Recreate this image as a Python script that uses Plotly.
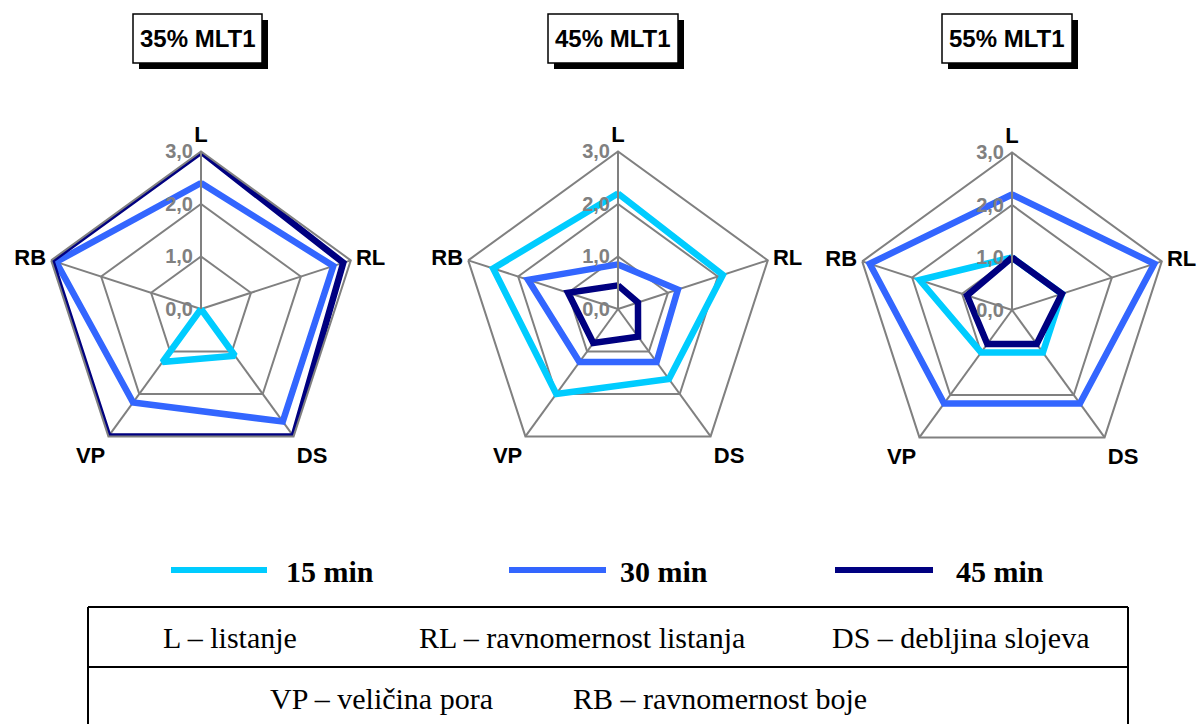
import plotly.graph_objects as go

# Sensory attributes (clockwise from the top)
categories = ["L", "RL", "DS", "VP", "RB"]

# Panel headings: share of MLT1
panels = ["35% MLT1", "45% MLT1", "55% MLT1"]

# Series: baking / processing time
series_names = ["15 min", "30 min", "45 min"]
series_colors = ["#00CCFF", "#3366FF", "#000080"]

# Scores per panel, order L, RL, DS, VP, RB
mlt35_15 = [0.0, 0.0, 1.1, 1.25, 0.0]
mlt35_30 = [2.4, 2.65, 2.65, 2.2, 2.9]
mlt35_45 = [3.0, 2.85, 3.0, 3.0, 3.0]

mlt45_15 = [2.2, 2.1, 1.65, 2.0, 2.5]
mlt45_30 = [0.85, 1.2, 1.25, 1.25, 1.8]
mlt45_45 = [0.45, 0.4, 0.65, 0.8, 1.0]

mlt55_15 = [1.0, 1.0, 1.0, 1.0, 1.85]
mlt55_30 = [2.2, 2.85, 2.2, 2.2, 2.85]
mlt55_45 = [1.0, 1.0, 0.8, 0.8, 0.9]

panel_data = [
    [mlt35_15, mlt35_30, mlt35_45],
    [mlt45_15, mlt45_30, mlt45_45],
    [mlt55_15, mlt55_30, mlt55_45],
]

radial_ticks = [0, 1, 2, 3]

# Abbreviation key shown under the charts
key_row1 = ["L – listanje", "RL – ravnomernost listanja", "DS – debljina slojeva"]
key_row2 = ["VP – veličina pora", "RB – ravnomernost boje"]

W, H = 1199, 724


def fx(x):
    return x / W


def fy(y):
    return 1 - y / H


GRID = "#808080"
centers = [(201, 309), (618, 309), (1012, 310)]
R = 157.5

fig = go.Figure()
layout = dict(
    width=W,
    height=H,
    margin=dict(l=0, r=0, t=0, b=0),
    paper_bgcolor="white",
    plot_bgcolor="white",
    showlegend=False,
    separators=",.",
    shapes=[],
    annotations=[],
)

for i, (cx, cy) in enumerate(centers):
    name = "polar" if i == 0 else f"polar{i + 1}"
    for vals, sname, color in zip(panel_data[i], series_names, series_colors):
        fig.add_trace(
            go.Scatterpolar(
                r=vals + vals[:1],
                theta=categories + categories[:1],
                mode="lines",
                line=dict(color=color, width=6.5),
                name=sname,
                cliponaxis=False,
                subplot=name,
                showlegend=False,
            )
        )
    layout[name] = dict(
        domain=dict(
            x=[fx(cx - R), fx(cx + R)],
            y=[fy(cy + R), fy(cy - R)],
        ),
        bgcolor="white",
        gridshape="linear",
        radialaxis=dict(
            range=[0, 3],
            tickvals=radial_ticks,
            tickformat=".1f",
            angle=90,
            side="counterclockwise",
            showline=True,
            linecolor=GRID,
            linewidth=2,
            gridcolor=GRID,
            gridwidth=2,
            ticks="",
            tickangle=90,
            tickfont=dict(family="Liberation Sans", size=20, color=GRID, weight="bold"),
        ),
        angularaxis=dict(
            categoryorder="array",
            categoryarray=categories,
            direction="clockwise",
            rotation=90,
            showline=True,
            linecolor=GRID,
            linewidth=2,
            gridcolor=GRID,
            gridwidth=2,
            ticks="",
            tickfont=dict(family="Liberation Sans", size=22, color="black", weight="bold"),
        ),
    )

# Heading boxes with drop shadow
box_x = [(133, 262), (548, 678), (942, 1072)]
for (x0, x1), title in zip(box_x, panels):
    y0, y1 = 14, 63
    layout["shapes"].append(dict(
        type="rect", xref="paper", yref="paper",
        x0=fx(x0 + 6), x1=fx(x1 + 6), y0=fy(y1 + 6), y1=fy(y0 + 6),
        fillcolor="black", line=dict(width=0), layer="above",
    ))
    layout["shapes"].append(dict(
        type="rect", xref="paper", yref="paper",
        x0=fx(x0), x1=fx(x1), y0=fy(y1), y1=fy(y0),
        fillcolor="white", line=dict(color="black", width=1.5), layer="above",
    ))
    layout["annotations"].append(dict(
        x=fx((x0 + x1) / 2), y=fy((y0 + y1) / 2), xref="paper", yref="paper",
        text=title, showarrow=False, xanchor="center", yanchor="middle",
        font=dict(family="Liberation Sans", size=24, color="black", weight="bold"),
    ))

# Legend keys
legend_x = [(171, 267, 284), (509, 606, 618), (835, 933, 954)]
for (lx0, lx1, tx), sname, color in zip(legend_x, series_names, series_colors):
    layout["shapes"].append(dict(
        type="line", xref="paper", yref="paper",
        x0=fx(lx0), x1=fx(lx1), y0=fy(570), y1=fy(570),
        line=dict(color=color, width=6),
    ))
    layout["annotations"].append(dict(
        x=fx(tx), y=fy(571), xref="paper", yref="paper",
        text=sname, showarrow=False, xanchor="left", yanchor="middle",
        font=dict(family="Liberation Serif", size=30, color="black", weight="bold"),
    ))

# Key table
tl, tr, tt, tm, tb = 88, 1128, 607, 667, 730
for x0, y0, x1, y1 in [(tl, tt, tr, tt), (tl, tm, tr, tm), (tl, tt, tl, tb), (tr, tt, tr, tb)]:
    layout["shapes"].append(dict(
        type="line", xref="paper", yref="paper",
        x0=fx(x0), y0=fy(y0), x1=fx(x1), y1=fy(y1),
        line=dict(color="black", width=2),
    ))

row1_x = [230, 582, 960]
row2_x = [381, 720]
for txt, x in zip(key_row1, row1_x):
    layout["annotations"].append(dict(
        x=fx(x), y=fy(637), xref="paper", yref="paper", text=txt, showarrow=False,
        xanchor="center", yanchor="middle",
        font=dict(family="Liberation Serif", size=30, color="black"),
    ))
for txt, x in zip(key_row2, row2_x):
    layout["annotations"].append(dict(
        x=fx(x), y=fy(698), xref="paper", yref="paper", text=txt, showarrow=False,
        xanchor="center", yanchor="middle",
        font=dict(family="Liberation Serif", size=30, color="black"),
    ))

fig.update_layout(**layout)
fig.write_html("out.html")
